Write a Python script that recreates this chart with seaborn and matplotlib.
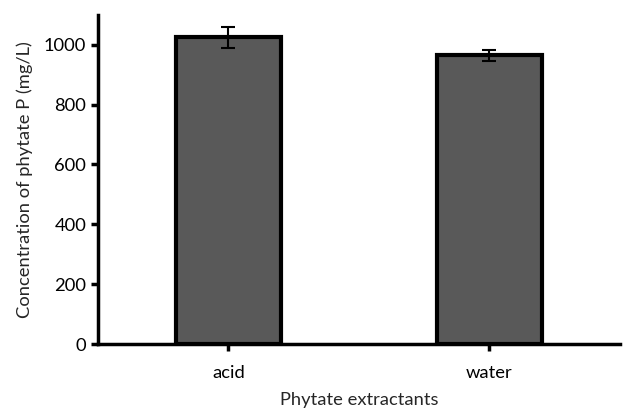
import matplotlib
matplotlib.use("Agg")
import matplotlib.pyplot as plt
import seaborn as sns
import pandas as pd

categories = ["acid", "water"]
values = [1025, 965]
errors = [36, 18]

sns.set_theme(style="white")
plt.rcParams['font.family'] = ['Lato', 'DejaVu Sans']

df = pd.DataFrame({"ext": categories, "val": values})

fig = plt.figure(figsize=(6.28, 4.13), dpi=100)
ax = fig.add_axes([0.156, 0.167, 0.831, 0.797])
sns.barplot(data=df, x="ext", y="val", color="#595959", saturation=1,
            width=0.4, edgecolor="black", linewidth=3, errorbar=None, ax=ax)
ax.errorbar(range(len(categories)), values, yerr=errors, fmt="none",
            ecolor="black", elinewidth=1.5, capsize=5, capthick=1.5, zorder=5)

ax.set_xlim(-0.5, 1.5)
ax.set_ylim(0, 1100)
ax.set_yticks([0, 200, 400, 600, 800, 1000])
ax.set_xlabel("Phytate extractants", fontsize=13.2, labelpad=8)
ax.set_ylabel("Concentration of phytate P (mg/L)", fontsize=13.2, labelpad=8)
ax.tick_params(axis="both", labelsize=13.2, direction="out", length=5, width=2.5,
               colors="black", bottom=True, left=True)
ax.tick_params(axis="x", pad=10)
for s in ["top", "right"]:
    ax.spines[s].set_visible(False)
for s in ["left", "bottom"]:
    ax.spines[s].set_linewidth(2.5)
    ax.spines[s].set_color("black")

fig.savefig("out.png", dpi=100)
